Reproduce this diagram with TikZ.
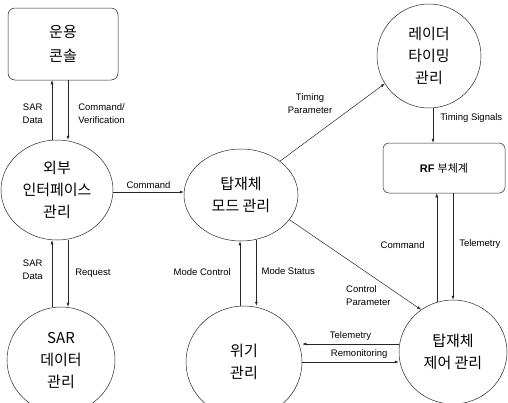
\documentclass[tikz,border=0pt]{standalone}
\usepackage{fontspec}
\setmainfont{Liberation Sans}
\newfontfamily\kr{Noto Sans CJK KR}
\usetikzlibrary{shapes.geometric,arrows.meta}

\begin{document}
\begin{tikzpicture}[x=1pt,y=-1pt,
        proc/.style={ellipse,draw=black!85,line width=0.5pt,inner sep=-8pt,align=center,
            font=\kr\fontsize{15}{22}\selectfont},
        store/.style={rectangle,rounded corners=7pt,draw=black!85,line width=0.5pt,align=center},
        flow/.style={draw=black!85,line width=0.5pt,-{Latex[length=4pt,width=3pt]}},
        lbl/.style={font=\fontsize{9.5}{13}\selectfont,inner sep=0pt,align=center}]
        \useasboundingbox (0,0) rectangle (508,402);

        % Stores (rounded boxes)
        \node[store,minimum width=110,minimum height=72,font=\kr\fontsize{15}{24}\selectfont] (console) at (63,44) {운용\\콘솔};
        \node[store,minimum width=122,minimum height=50,rounded corners=6pt,font=\fontsize{11}{13}\selectfont] (rf) at (444,168) {\textbf{RF} {\kr 부체계}};

        % Processes (circles)
        \node[proc,minimum width=112,minimum height=100] (ext) at (57,190) {외부\\인터페이스\\관리};
        \node[proc,minimum width=108,minimum height=106] (sar) at (61,360) {SAR\\데이터\\관리};
        \node[proc,minimum width=114,minimum height=92] (mode) at (241,195) {탑재체\\모드 관리};
        \node[proc,minimum width=104,minimum height=104] (radar) at (429,56) {레이더\\타이밍\\관리};
        \node[proc,minimum width=116,minimum height=112] (crisis) at (244,362) {위기\\관리};
        \node[proc,minimum width=108,minimum height=104] (ctrl) at (453,352) {탑재체\\제어 관리};

        % Console <-> external interface
        \draw[flow] ([xshift=-5]ext.north) -- node[lbl,pos=.43,left=9pt] (sd1) {SAR\\Data} ([xshift=-5]ext.north |- console.south);
        \draw[flow] ([xshift=11]ext.north |- console.south) -- node[lbl,align=left,pos=.56,right=10pt] (cv) {Command/\\Verification} ([xshift=11]ext.north);

        % External interface <-> SAR data
        \draw[flow] ([xshift=-9]sar.north) -- node[lbl,pos=.55,left=9pt] (sd2) {SAR\\Data} ([xshift=-9]sar.north |- ext.south);
        \draw[flow] ([xshift=7]sar.north |- ext.south) -- node[lbl,pos=.5,right=7pt] (req) {Request} ([xshift=7]sar.north);

        % External interface -> payload mode
        \draw[flow] ([yshift=-2]ext.east) -- node[lbl,above=3pt] (cmd1) {Command} ([yshift=-2]ext.east -| mode.west);

        % Payload mode -> radar timing, payload control
        \draw[flow] (mode.41) -- (radar.212);
        \node[lbl] (tp) at (310,104) {Timing\\Parameter};
        \draw[flow] (mode.-27) -- (ctrl.127);
        \node[lbl,align=left,anchor=west] (cp) at (346,296) {Control\\Parameter};

        % Radar timing -> RF
        \draw[flow] ([xshift=4]radar.south) -- node[lbl,pos=.29,right=7pt] (ts) {Timing Signals} ([xshift=4]radar.south |- rf.north);

        % RF <-> payload control
        \draw[flow] (ctrl.108) -- node[lbl,pos=.52,left=12pt] (cmd2) {Command} (ctrl.108 |- rf.south);
        \draw[flow] (rf.south -| ctrl.north) -- node[lbl,pos=.48,right=6pt] (tm1) {Telemetry} (ctrl.north);

        % Payload mode <-> crisis
        \draw[flow] ([xshift=-4]crisis.north) -- node[lbl,pos=.52,left=9pt] (mc) {Mode Control} ([xshift=-4]crisis.north |- mode.south);
        \draw[flow] (mode.289) -- node[lbl,pos=.48,right=5pt] (ms) {Mode Status} (mode.289 |- crisis.north);

        % Payload control <-> crisis
        \draw[flow] ([yshift=8]ctrl.west) -- node[lbl,pos=.5,above=3pt] (tm2) {Telemetry} ([yshift=8]ctrl.west -| crisis.east);
        \draw[flow] (crisis.east) -- node[lbl,pos=.59,above=3pt] (rm) {Remonitoring} (crisis.east -| ctrl.west);
\end{tikzpicture}
\end{document}
